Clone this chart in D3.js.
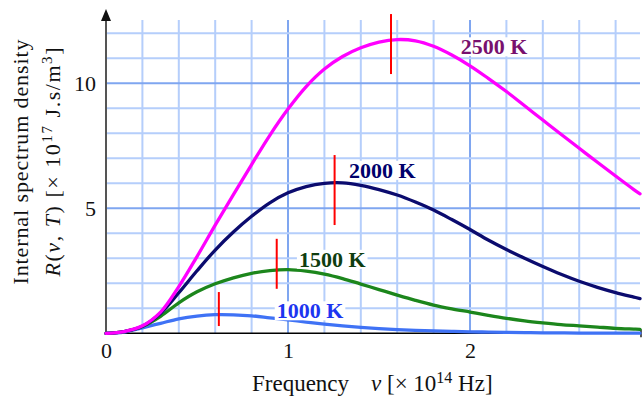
<!DOCTYPE html>
<html>
<head>
<meta charset="utf-8">
<script src="https://cdn.jsdelivr.net/npm/d3@7"></script>
<style>
    body { margin: 0; background: #fff; }
    svg { display: block; font-family: "Liberation Serif", "Times New Roman", serif; }
</style>
</head>
<body>
<svg width="642" height="398"></svg>
<script>
// frequency [x 10^14 Hz] and spectral density
var frequency = [0, 0.1, 0.2, 0.3, 0.4, 0.5, 0.6, 0.7, 0.8, 0.9, 1.0, 1.1, 1.2, 1.3, 1.4, 1.5, 1.6, 1.7, 1.8, 1.9,
                 2.0, 2.1, 2.2, 2.3, 2.4, 2.5, 2.6, 2.7, 2.8, 2.9, 2.934];
var r1000 = [0, 0.05, 0.22, 0.40, 0.58, 0.69, 0.745, 0.74, 0.70, 0.62, 0.54, 0.45, 0.37, 0.30, 0.24, 0.19, 0.15, 0.12, 0.10, 0.08,
             0.06, 0.05, 0.04, 0.03, 0.02, 0.015, 0.01, 0.008, 0.006, 0.005, 0.004];
var r1500 = [0, 0.07, 0.27, 0.68, 1.22, 1.66, 1.98, 2.22, 2.40, 2.51, 2.55, 2.49, 2.37, 2.19, 1.97, 1.75, 1.53, 1.32, 1.13, 0.98,
             0.85, 0.72, 0.60, 0.50, 0.42, 0.35, 0.30, 0.25, 0.20, 0.17, 0.16];
var r2000 = [0, 0.07, 0.28, 0.80, 1.62, 2.50, 3.33, 4.05, 4.68, 5.22, 5.62, 5.87, 6.00, 6.02, 5.92, 5.75, 5.53, 5.25, 4.93, 4.55,
             4.15, 3.73, 3.35, 3.00, 2.67, 2.36, 2.08, 1.84, 1.63, 1.45, 1.39];
var r2500 = [0, 0.07, 0.30, 0.85, 1.87, 3.07, 4.33, 5.55, 6.75, 7.92, 8.97, 9.87, 10.57, 11.07, 11.42, 11.65, 11.75, 11.70, 11.48, 11.13,
             10.70, 10.20, 9.67, 9.10, 8.53, 7.96, 7.40, 6.84, 6.29, 5.75, 5.58];

var tempLabels = ["1000 K", "1500 K", "2000 K", "2500 K"];
var peakFreq = [0.62, 0.938, 1.256, 1.566];
var peakTop = [1.65, 3.78, 7.13, 12.77];
var peakBottom = [0.29, 1.78, 4.33, 10.37];
var labelFreq = [0.938, 1.06, 1.335, 1.949];
var labelValue = [0.6, 2.66, 6.22, 11.16];

var xTicks = [0, 1, 2];
var yTicks = [5, 10];

var curveColors = ["#3f72f5", "#1c861c", "#0b0b6e", "#ff00ff"];
var labelColors = ["#1d35f0", "#0f3d0f", "#00006b", "#78106e"];

var svg = d3.select("svg");

var x = d3.scaleLinear().domain([0, 2.934]).range([106, 640]),
    y = d3.scaleLinear().domain([0, 12]).range([333.3, 33.3]);

// grid
var grid = svg.append("g");
grid.selectAll(".vgrid")
    .data(d3.range(1, 15).map(function (i) { return i * 0.2; }))
    .enter().append("line")
    .attr("x1", function (d) { return x(d); })
    .attr("x2", function (d) { return x(d); })
    .attr("y1", 20)
    .attr("y2", y(0))
    .attr("stroke", function (d, i) { return (i + 1) % 5 == 0 ? "#7fa6f0" : "#b5cefb"; })
    .attr("stroke-width", 2);

grid.selectAll(".hgrid")
    .data(d3.range(1, 13))
    .enter().append("line")
    .attr("x1", x(0))
    .attr("x2", 640)
    .attr("y1", function (d) { return y(d); })
    .attr("y2", function (d) { return y(d); })
    .attr("stroke", function (d) { return d % 5 == 0 ? "#7fa6f0" : "#b5cefb"; })
    .attr("stroke-width", 2);

// axes
var xAxis = svg.append("g")
    .attr("transform", "translate(0," + y(0) + ")")
    .call(d3.axisBottom(x).tickValues(xTicks).tickSize(0).tickPadding(9).tickFormat(d3.format("d")));
var yAxis = svg.append("g")
    .attr("transform", "translate(" + x(0) + ",0)")
    .call(d3.axisLeft(y).tickValues(yTicks).tickSize(0).tickPadding(10).tickFormat(d3.format("d")));
svg.selectAll(".domain").remove();
svg.selectAll(".tick text")
    .attr("font-family", "Liberation Serif")
    .attr("font-size", 22)
    .attr("fill", "#111");

svg.append("line")
    .attr("x1", x(0)).attr("x2", x(0))
    .attr("y1", 20).attr("y2", y(0))
    .attr("stroke", "#555").attr("stroke-width", 2);
svg.append("path")
    .attr("d", "M" + x(0) + ",9 L" + (x(0) - 5) + ",21 L" + (x(0) + 5) + ",21 Z")
    .attr("fill", "#111");
svg.append("line")
    .attr("x1", x(0)).attr("x2", 641)
    .attr("y1", y(0)).attr("y2", y(0))
    .attr("stroke", "#000").attr("stroke-width", 1.6);
svg.append("line")
    .attr("x1", 641).attr("x2", 641)
    .attr("y1", y(0) - 4).attr("y2", y(0) + 4)
    .attr("stroke", "#000").attr("stroke-width", 1.3);

// curves
var series = [r1000, r1500, r2000, r2500];
var line = d3.line()
    .x(function (d) { return x(d[0]); })
    .y(function (d) { return y(d[1]); })
    .curve(d3.curveCatmullRom.alpha(0.5));

svg.selectAll(".curve")
    .data(series)
    .enter().append("path")
    .attr("class", "curve")
    .attr("d", function (s) { return line(frequency.map(function (f, i) { return [f, s[i]]; })); })
    .attr("fill", "none")
    .attr("stroke", function (d, i) { return curveColors[i]; })
    .attr("stroke-width", 3.3)
    .attr("stroke-linecap", "round");

// peak markers
svg.selectAll(".peak")
    .data(peakFreq)
    .enter().append("line")
    .attr("x1", function (d) { return x(d); })
    .attr("x2", function (d) { return x(d); })
    .attr("y1", function (d, i) { return y(peakTop[i]); })
    .attr("y2", function (d, i) { return y(peakBottom[i]); })
    .attr("stroke", "#ff0000")
    .attr("stroke-width", 2);

// temperature labels with a white box behind
var labels = svg.selectAll(".tlabel")
    .data(tempLabels)
    .enter().append("g");
labels.append("text")
    .attr("x", function (d, i) { return x(labelFreq[i]); })
    .attr("y", function (d, i) { return y(labelValue[i]); })
    .attr("font-size", 22)
    .attr("font-weight", "bold")
    .attr("fill", function (d, i) { return labelColors[i]; })
    .text(function (d) { return d; });
labels.each(function () {
    var g = d3.select(this), b = g.select("text").node().getBBox();
    g.insert("rect", "text")
        .attr("x", b.x - 2).attr("y", b.y + 3)
        .attr("width", b.width + 4).attr("height", b.height - 6)
        .attr("fill", "#fff");
});

// axis titles
var xt = svg.append("text")
    .attr("x", 252)
    .attr("y", 391)
    .attr("font-size", 23)
    .attr("fill", "#111");
xt.append("tspan").text("Frequency");
xt.append("tspan").attr("x", 371).attr("font-style", "italic").text("ν");
xt.append("tspan").text(" [× 10");
xt.append("tspan").attr("dy", -8).attr("font-size", 16).text("14");
xt.append("tspan").attr("dy", 8).text(" Hz]");

var yt1 = svg.append("text")
    .attr("transform", "translate(28,162) rotate(-90)")
    .attr("text-anchor", "middle")
    .attr("font-size", 22)
    .attr("fill", "#111")
    .attr("textLength", 245)
    .text("Internal spectrum density");

var yt2 = svg.append("text")
    .attr("transform", "translate(60,162) rotate(-90)")
    .attr("text-anchor", "middle")
    .attr("font-size", 22)
    .attr("fill", "#111")
    .attr("textLength", 229);
yt2.append("tspan").attr("font-style", "italic").text("R");
yt2.append("tspan").text("(");
yt2.append("tspan").attr("font-style", "italic").text("ν");
yt2.append("tspan").text(", ");
yt2.append("tspan").attr("font-style", "italic").text("T");
yt2.append("tspan").text(")  [× 10");
yt2.append("tspan").attr("dy", -8).attr("font-size", 15).text("17");
yt2.append("tspan").attr("dy", 8).text(" J.s/m");
yt2.append("tspan").attr("dy", -8).attr("font-size", 15).text("3");
yt2.append("tspan").attr("dy", 8).text("]");
</script>
</body>
</html>
